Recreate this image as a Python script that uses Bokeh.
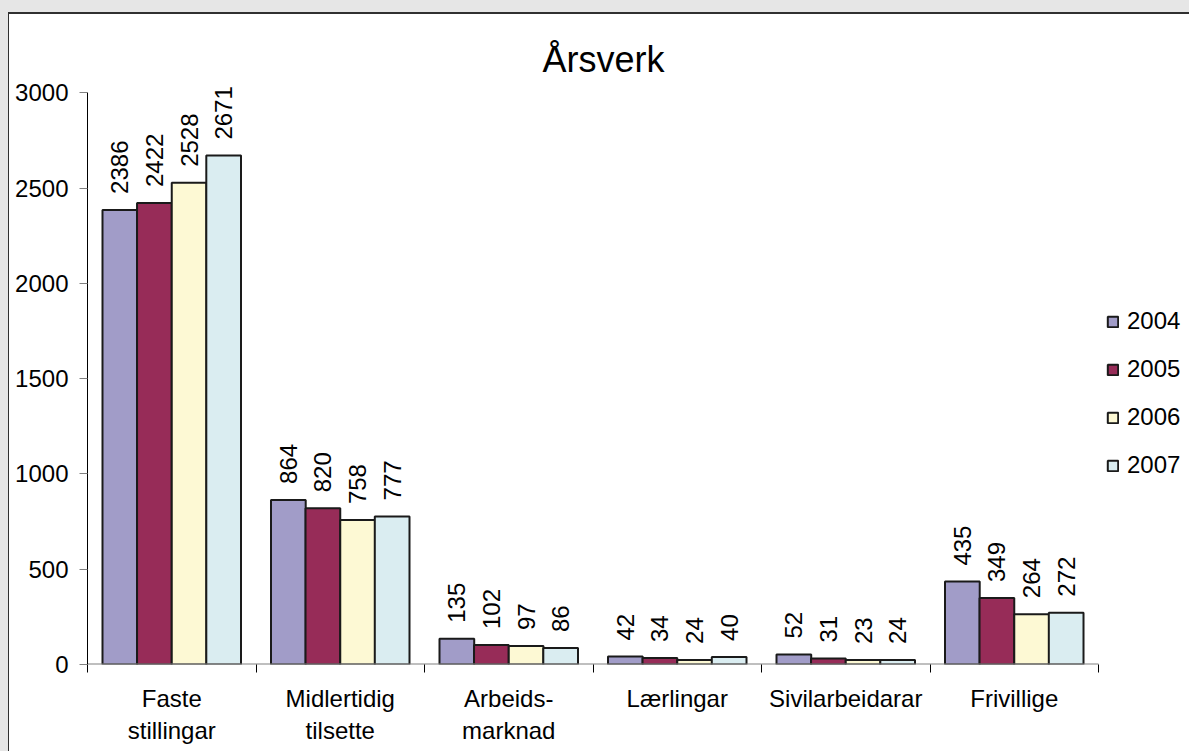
import math
from bokeh.plotting import figure
from bokeh.models import ColumnDataSource, FixedTicker, Legend, LegendItem, Range1d
from bokeh.transform import dodge
from bokeh.core.properties import value
from bokeh.embed import file_html
from bokeh.resources import INLINE

categories = ["Faste\nstillingar", "Midlertidig\ntilsette", "Arbeids-\nmarknad",
              "Lærlingar", "Sivilarbeidarar", "Frivillige"]
years = ["2004", "2005", "2006", "2007"]
v2004 = [2386, 864, 135, 42, 52, 435]
v2005 = [2422, 820, 102, 34, 31, 349]
v2006 = [2528, 758, 97, 24, 23, 264]
v2007 = [2671, 777, 86, 40, 24, 272]
y_ticks = [0, 500, 1000, 1500, 2000, 2500, 3000]
title_text = "Årsverk"

colors = ["#A19CC8", "#972C58", "#FDF9D4", "#DAEDF1"]
FONT = "Liberation Sans"

series = [v2004, v2005, v2006, v2007]
n = len(categories)
xc = [i + 0.5 for i in range(n)]
data = {"x": xc}
for yr, vals in zip(years, series):
    data["v" + yr] = vals
    data["t" + yr] = [str(v) for v in vals]
src = ColumnDataSource(data)

# extra room right of the categories holds the legend; a little head-room above
# the top tick keeps rotated value labels from being clipped
legend_room = 0.54
y_max = y_ticks[-1]
p = figure(width=1189, height=751, output_backend="svg", toolbar_location=None,
           x_range=Range1d(0, n + legend_room), y_range=Range1d(0, y_max + 60),
           min_border_left=79, min_border_right=8, min_border_top=69, min_border_bottom=99,
           styles={"border-left": "8px solid #E6E6E6", "border-top": "12px solid #E6E6E6",
                   "background-color": "white",
                   "box-shadow": "inset 1px 2px 0 0 #303030"})

offsets = [-0.308, -0.103, 0.103, 0.308]
bw = 0.206
renderers = []
for yr, off, col in zip(years, offsets, colors):
    r = p.vbar(x=dodge("x", off), top="v" + yr, bottom=0, width=bw, source=src,
               fill_color=col, line_color="#1a1a1a", line_width=2)
    renderers.append(r)
    p.text(x=dodge("x", off), y="v" + yr, text="t" + yr, source=src,
           angle=math.pi / 2, text_align="left", text_baseline="middle",
           y_offset=-16, text_font=value(FONT), text_font_size="24px", text_color="black")

# x axis baseline only under the categories
p.line(x=[0, n], y=[0, 0], line_color="#808080", line_width=2)

p.xgrid.visible = False
p.ygrid.visible = False
p.outline_line_color = None
p.background_fill_color = "white"
p.border_fill_color = None

p.title.text = title_text
p.title.text_font = FONT
p.title.text_font_size = "36px"
p.title.text_font_style = "normal"
p.title.text_color = "black"
p.title.align = "left"
p.title.offset = 455
p.title.standoff = 4

ya = p.yaxis[0]
ya.ticker = FixedTicker(ticks=y_ticks, minor_ticks=[])
ya.bounds = (0, y_max)
ya.major_tick_out = 8
ya.major_tick_in = 0
ya.major_tick_line_color = "#808080"
ya.minor_tick_line_color = None
ya.axis_line_color = "black"
ya.major_label_text_font = FONT
ya.major_label_text_font_size = "24px"
ya.major_label_text_color = "black"
ya.major_label_standoff = 11

xa = p.xaxis[0]
xa.ticker = FixedTicker(ticks=xc, minor_ticks=list(range(n + 1)))
xa.major_label_overrides = {x: c for x, c in zip(xc, categories)}
xa.major_tick_line_color = None
xa.minor_tick_out = 8
xa.minor_tick_in = 0
xa.minor_tick_line_color = "black"
xa.axis_line_color = None
xa.major_label_text_font = FONT
xa.major_label_text_font_size = "24px"
xa.major_label_text_color = "black"
xa.major_label_standoff = 12

items = [LegendItem(label=yr, renderers=[r]) for yr, r in zip(years, renderers)]
legend = Legend(items=items, location=(1019, 185), border_line_color=None,
                background_fill_alpha=0, glyph_width=13, glyph_height=13,
                label_text_font=FONT, label_text_font_size="24px", label_text_color="black",
                label_height=28, spacing=20, padding=0, margin=0, label_standoff=8)
p.add_layout(legend, "center")

open("out.html", "w").write(file_html(p, INLINE))
